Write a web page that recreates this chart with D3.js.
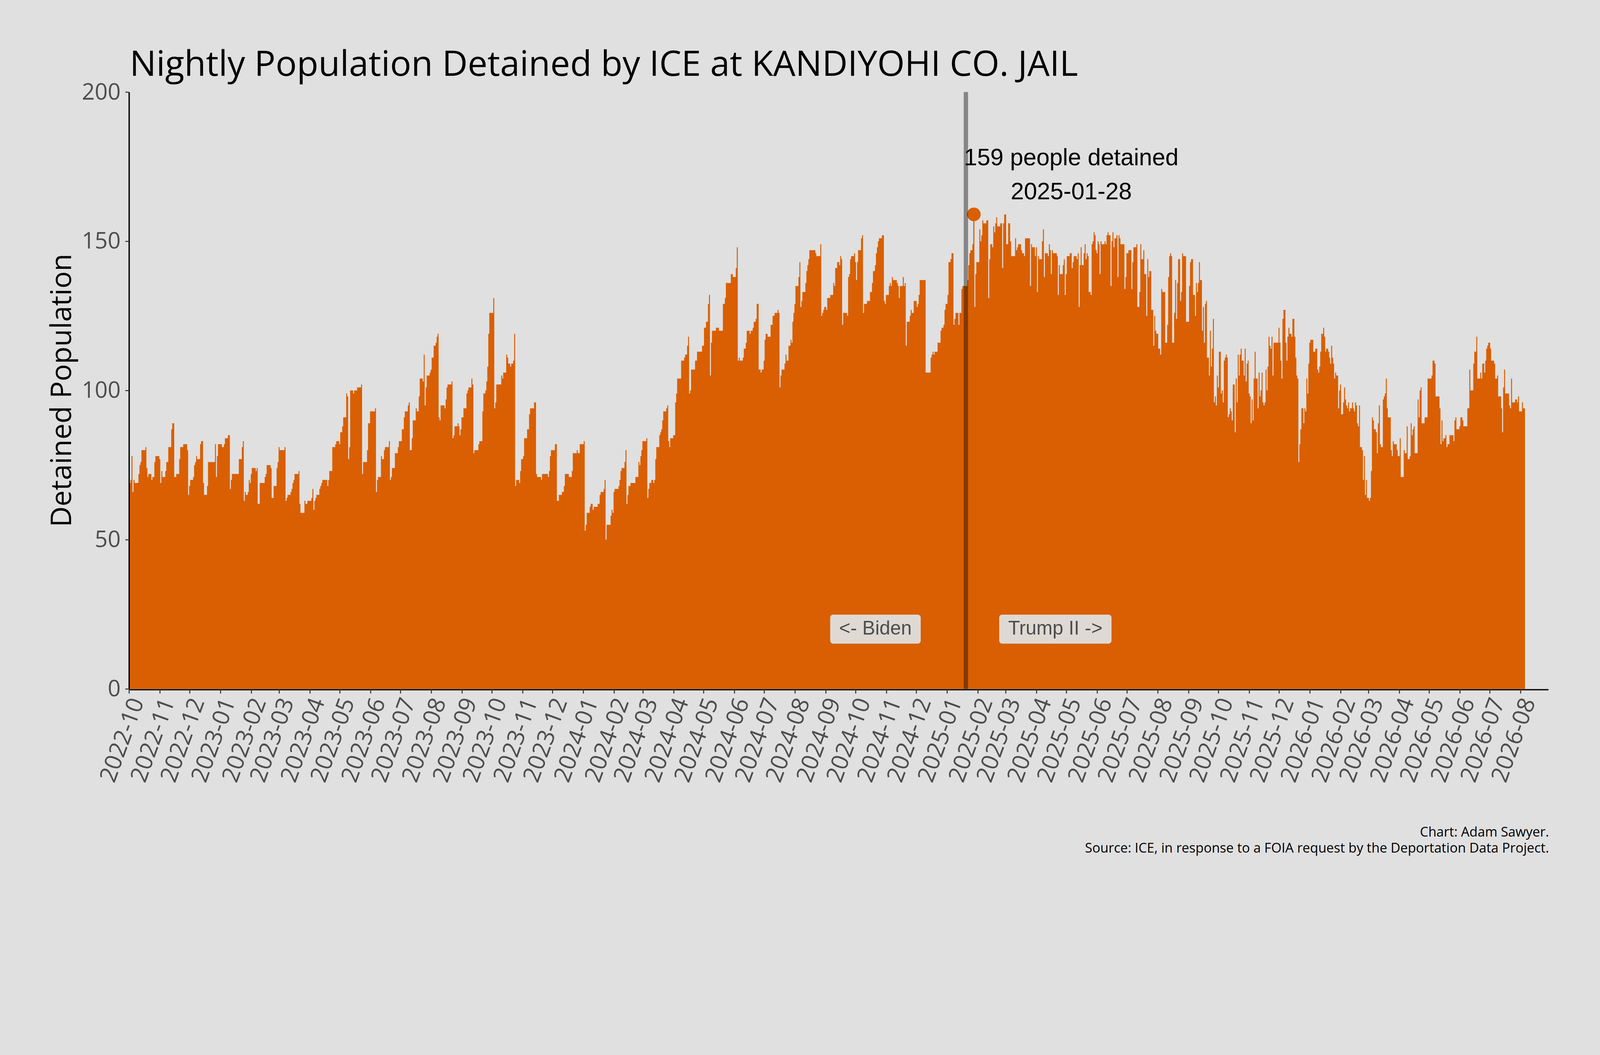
<!DOCTYPE html>
<html>
<head>
<meta charset="utf-8">
<script src="https://cdn.jsdelivr.net/npm/d3@7"></script>
<style>
  html, body { margin: 0; padding: 0; background: #e0e0e0; overflow: hidden; }
  svg { display: block; width: 100vw; height: auto; }
</style>
</head>
<body>
<script>
const w = 4800
const h = 2700

// nightly counts, one value per night starting 2022-10-02
const firstNight = '2022-10-02'
const pop2022 = [69,70,78,66,70,69,69,69,69,72,75,76,80,80,80,80,81,74,71,72,72,72,70,71,71,76,78,78,78,78,77,69,73,71,71,71,73,76,76,81,81,81,87,89,89,71,71,72,72,72,77,81,81,81,82,82,82,82,80,65,68,70,70,70,71,75,76,78,77,77,77,82,83,83,69,65,65,65,68,76,76,76,76,76,76,76,82,71,78,82,82]
const pop2023 = [82,82,81,81,82,84,84,84,85,
  85,67,70,72,72,72,72,72,72,72, 77,77,77,81,83,63,66,65,65,66, 70,69,72,74,74,74,74,73,74,62, 62,69,69,69,69,69,71,72,75,75,
  75,75,74,64,64,68,68,68,74,76, 81,80,80,80,80,80,81,63,64,65, 65,65,66,67,69,70,72,72,72,72, 73,62,59,59,59,59,63,62,62,63,
  63,63,63,64,67,60,63,64,65,65, 65,67,68,69,70,70,70,70,70,68, 70,73,73,73,81,81,81,82,83,83, 83,82,86,86,88,91,91,91,99,98,
  77,81,100,100,100,99,100,100,100,101, 101,101,101,102,72,76,76,76,76,80, 89,89,93,93,93,93,93,94,66,70, 71,71,71,78,77,77,80,81,81,81,
  81,83,70,71,74,74,74,79,79,79, 81,83,83,83,87,87,91,93,93,93, 95,96,80,80,84,90,90,90,94,93, 93,98,104,104,104,103,112,95,101,105,
  105,105,106,107,111,111,115,115,116,118, 119,91,90,95,95,95,95,94,97,101, 102,102,102,102,103,84,85,88,88,88, 89,88,85,87,91,91,94,94,94,99,
  100,101,101,101,104,102,79,80,80,80, 80,82,83,83,83,93,99,99,100,103, 108,119,126,126,126,126,131,94,96,102, 102,102,102,102,105,104,106,106,106,112,
  111,109,109,108,109,109,110,119,68,70, 70,70,69,73,77,77,78,84,84,84, 87,87,92,94,94,94,94,96,96,72, 71,71,71,71,70,72,72,72,72,72,
  72,71,73,78,80,80,80,80,82,82, 63,63,65,65,65,66,66,68,72,72, 72,72,71,71,71,73,79,79,79,79, 80,79,79,82,82,82]
const pop2024 = [82,83,53,55,
  59,59,59,61,62,62,60,61,61,61, 61,62,62,65,66,66,66,67,70,50, 55,55,55,55,58,60,59,66,67,67, 67,67,68,70,73,74,74,74,76,80,
  62,65,68,68,69,69,69,69,69,71, 71,71,76,75,78,80,83,83,83,83, 84,64,67,69,69,70,70,69,70,77, 81,81,81,85,86,87,90,93,93,93,
  94,95,83,81,84,84,84,85,85,96, 99,104,104,104,104,110,110,110,111,112, 112,115,118,99,100,107,107,107,107,110, 110,113,113,113,113,113,115,115,121,121,
  123,123,129,132,105,116,120,120,120,120, 121,121,121,120,120,120,120,129,129,131, 136,136,136,136,136,139,139,138,138,138, 141,148,110,111,110,110,110,111,114,114,
  116,120,120,120,119,120,120,121,123,123, 124,129,129,107,107,106,107,107,110,117, 119,119,118,118,118,122,122,125,125,126, 126,126,127,126,101,105,107,107,107,109,
  112,110,110,115,115,117,116,123,126,129, 135,135,135,138,143,128,130,133,133,133, 136,140,142,144,147,147,147,147,147,147, 146,145,145,145,145,149,125,126,127,128,
  128,127,131,131,131,132,132,132,136,135, 141,141,143,143,142,145,144,122,126,126, 126,126,125,138,139,144,145,145,145,146, 143,137,143,147,147,147,151,152,126,129,
  129,129,130,130,130,133,133,136,140,140, 142,146,148,150,151,151,151,152,152,130, 129,132,132,132,135,136,135,138,137,137, 137,137,136,135,131,135,135,135,138,135,
  136,115,123,123,123,125,127,126,126,130, 130,130,128,129,132,137,137,137,137,137, 137,106,106,106,106,106,111,112,113,112, 113,113,113,116,116,116,120,121,121,122,
  127,129]
const pop2025 = [129,132,143,143,144,146,146,122,
  124,126,126,126,122,126,126,134,135,135, 135,135,135,137,142,146,147,147,149,159, 128,139,143,143,143,154,150,152,157,156, 156,156,157,157,131,144,149,149,148,155,
  153,156,158,155,155,155,156,156,141,156, 159,159,149,149,156,156,150,145,145,145, 145,151,147,148,149,149,149,147,146,146, 145,151,151,151,151,151,135,149,148,148,
  148,145,148,133,145,144,144,144,150,154, 138,146,146,146,145,149,147,139,147,146, 146,146,146,145,132,142,139,139,139,142, 144,132,139,145,145,145,146,146,141,143,
  145,145,145,144,146,128,142,148,142,142, 146,149,144,146,145,133,133,132,149,150, 153,152,147,146,150,149,139,150,149,149, 149,150,149,152,153,152,152,135,150,153,
  148,151,151,152,138,152,151,149,149,149, 149,134,138,146,146,147,147,147,134,143, 148,148,148,149,128,128,133,149,144,144, 147,139,139,125,144,138,140,140,127,127,
  115,125,120,119,119,114,114,112,134,133, 133,133,116,116,122,138,145,146,145,116, 116,126,137,124,136,144,144,130,133,146, 145,145,145,123,123,123,135,143,144,144,
  132,132,125,136,133,136,143,137,137,120, 128,116,129,130,111,111,105,120,108,114, 124,96,98,95,105,101,113,113,99,100, 96,110,111,112,111,91,92,94,93,90,
  102,102,86,104,96,112,105,112,114,110, 110,105,114,103,109,110,99,98,89,97, 90,104,113,104,104,94,106,98,100,106, 96,95,96,107,100,108,118,115,114,118,
  105,116,116,116,116,116,121,116,110,104, 124,127,127,116,110,118,121,119,119,118, 124,124,118,111,105,104,76,82,87,94,
  94,89,94,93,104,99,109]
const pop2026 = [116,117,117,
  117,113,113,114,114,107,106,108,113,119, 119,121,118,113,114,114,113,111,109,115, 111,109,104,106,105,105,94,100,102,92, 92,96,101,97,95,94,96,93,94,94,
  96,94,93,96,95,89,88,95,81,81, 80,70,78,65,70,64,64,63,64,73, 91,90,87,87,86,79,89,95,82,81, 81,97,98,99,104,94,91,91,91,80,
  78,83,82,82,82,80,78,78,84,71, 71,71,80,79,79,88,77,77,78,89, 85,87,88,79,79,79,97,91,100,101, 89,89,89,91,91,91,104,104,104,104,
  105,110,110,109,98,98,98,98,94,82, 90,83,84,84,85,81,82,82,85,85, 85,85,83,90,91,87,87,87,88,91, 91,90,88,88,88,88,94,94,107,100,
  100,100,109,113,113,118,104,104,104,106, 104,109,109,106,110,114,115,116,116,114, 110,110,110,109,104,104,105,98,98,98, 94,86,101,107,99,99,99,99,95,94,
  104,96,96,96,97,97,96,98,93,93,
  93,96,94,94]

const xDomain = ['2022-10-01', '2026-08-29']
const yTicks = [0, 50, 100, 150, 200]
const inauguration = '2025-01-20'
const peakDate = '2025-01-28'
const peakValue = 159
const peakText = ['159 people detained', '2025-01-28']
const peakTextDate = '2025-05-06'
const peakTextValues = [175.4, 164.1]
const eraLabels = ['<- Biden', 'Trump II ->']
const eraDates = ['2024-10-21', '2025-04-20']
const eraValue = 20

const orange = '#d95f02'
const grey = '#4d4d4d'
const sans = "'Open Sans', 'Noto Sans', sans-serif"
const arial = "'Liberation Sans', Arial, sans-serif"

const parse = d3.utcParse('%Y-%m-%d')

const values = [].concat(pop2022, pop2023, pop2024, pop2025, pop2026)
const start = parse(firstNight)
const nights = values.map(function (v, i) {
    return { date: d3.utcDay.offset(start, i), pop: v }
})

const xScale = d3.scaleUtc()
    .domain(xDomain.map(parse))
    .range([387, 4645])

const yScale = d3.scaleLinear()
    .domain([0, 200])
    .range([2066, 276])

const svg = d3.select('body').append('svg')
    .attr('viewBox', `0 0 ${w} ${h}`)
    .attr('preserveAspectRatio', 'xMidYMin meet')

svg.append('rect')
    .attr('width', w)
    .attr('height', h)
    .attr('fill', '#e0e0e0')

function fitWidth (sel, target, maxSize) {
    const len = sel.node().getComputedTextLength()
    const size = parseFloat(sel.attr('font-size'))
    const fitted = Math.min(size * target / len, maxSize || Infinity)
    sel.attr('font-size', fitted)
    return fitted
}

// each night is a bar one day wide, centred on its date
const steps = nights.flatMap(function (d) {
    return [
        { t: d3.utcHour.offset(d.date, -12), pop: d.pop },
        { t: d3.utcHour.offset(d.date, 12), pop: d.pop }
    ]
})

const areaGen = d3.area()
    .x(function (d) { return xScale(d.t) })
    .y0(yScale(0))
    .y1(function (d) { return yScale(d.pop) })

svg.append('path')
    .attr('d', areaGen(steps))
    .attr('fill', orange)

// peak marker
svg.append('line')
    .attr('x1', xScale(parse(peakDate)))
    .attr('x2', xScale(parse(peakDate)))
    .attr('y1', yScale(peakValue))
    .attr('y2', yScale(0))
    .attr('stroke', orange)
    .attr('stroke-width', 3)

svg.append('circle')
    .attr('cx', xScale(parse(peakDate)))
    .attr('cy', yScale(peakValue))
    .attr('r', 20.5)
    .attr('fill', orange)

// inauguration line
svg.append('line')
    .attr('x1', xScale(parse(inauguration)))
    .attr('x2', xScale(parse(inauguration)))
    .attr('y1', yScale(200))
    .attr('y2', yScale(0))
    .attr('stroke', '#000')
    .attr('stroke-opacity', 0.4)
    .attr('stroke-width', 13)

peakText.forEach(function (t, i) {
    svg.append('text')
        .attr('x', xScale(parse(peakTextDate)))
        .attr('y', yScale(peakTextValues[i]))
        .attr('text-anchor', 'middle')
        .attr('font-family', arial)
        .attr('font-size', 71)
        .attr('fill', '#000')
        .text(t)
})

// era labels
eraLabels.forEach(function (lab, i) {
    const cx = xScale(parse(eraDates[i]))
    const cy = yScale(eraValue)
    const g = svg.append('g')
    const box = g.append('rect')
    const txt = g.append('text')
        .attr('x', cx)
        .attr('y', cy + 16)
        .attr('text-anchor', 'middle')
        .attr('font-family', arial)
        .attr('font-size', 58)
        .attr('fill', grey)
        .text(lab)
    const bw = txt.node().getComputedTextLength() + 54
    box.attr('x', cx - bw / 2)
        .attr('y', cy - 43.5)
        .attr('width', bw)
        .attr('height', 87)
        .attr('rx', 9)
        .attr('fill', '#dfd9d4')
})

// axes
const yAxis = svg.append('g')
    .attr('transform', 'translate(387,0)')
    .call(d3.axisLeft(yScale).tickValues(yTicks).tickSize(11).tickSizeOuter(0).tickPadding(14))

yAxis.select('.domain').attr('stroke', '#000').attr('stroke-width', 4)
yAxis.selectAll('.tick line').attr('stroke', '#333').attr('stroke-width', 3)
yAxis.selectAll('.tick text')
    .attr('font-family', sans)
    .attr('font-size', 68)
    .attr('fill', grey)

const xAxis = svg.append('g')
    .attr('transform', 'translate(0,2068)')
    .call(d3.axisBottom(xScale)
        .ticks(d3.utcMonth.every(1))
        .tickFormat(d3.utcFormat('%Y-%m'))
        .tickSize(12)
        .tickSizeOuter(0))

xAxis.select('.domain').attr('stroke', '#000').attr('stroke-width', 4)
xAxis.selectAll('.tick line').attr('stroke', '#333').attr('stroke-width', 3)
xAxis.selectAll('.tick text')
    .attr('font-family', sans)
    .attr('font-size', 70)
    .attr('fill', grey)
    .attr('x', 0)
    .attr('y', 0)
    .attr('dy', null)
    .attr('text-anchor', 'end')
    .attr('transform', 'translate(45,36) rotate(-70)')

// titles
const title = svg.append('text')
    .attr('x', 389)
    .attr('y', 227)
    .attr('font-family', sans)
    .attr('font-size', 108)
    .attr('fill', '#000')
    .text('Nightly Population Detained by ICE at KANDIYOHI CO. JAIL')
fitWidth(title, 2845)

const yLabel = svg.append('text')
    .attr('transform', 'translate(213,1171) rotate(-90)')
    .attr('text-anchor', 'middle')
    .attr('font-family', sans)
    .attr('font-size', 84)
    .attr('fill', '#000')
    .text('Detained Population')
fitWidth(yLabel, 820)

const cap2 = svg.append('text')
    .attr('x', 4647)
    .attr('y', 2557)
    .attr('text-anchor', 'end')
    .attr('font-family', sans)
    .attr('font-size', 40)
    .attr('fill', '#000')
    .text('Source: ICE, in response to a FOIA request by the Deportation Data Project.')
const capSize = fitWidth(cap2, 1984, 40)

svg.append('text')
    .attr('x', 4647)
    .attr('y', 2509)
    .attr('text-anchor', 'end')
    .attr('font-family', sans)
    .attr('font-size', capSize)
    .attr('fill', '#000')
    .text('Chart: Adam Sawyer.')
</script>
</body>
</html>
